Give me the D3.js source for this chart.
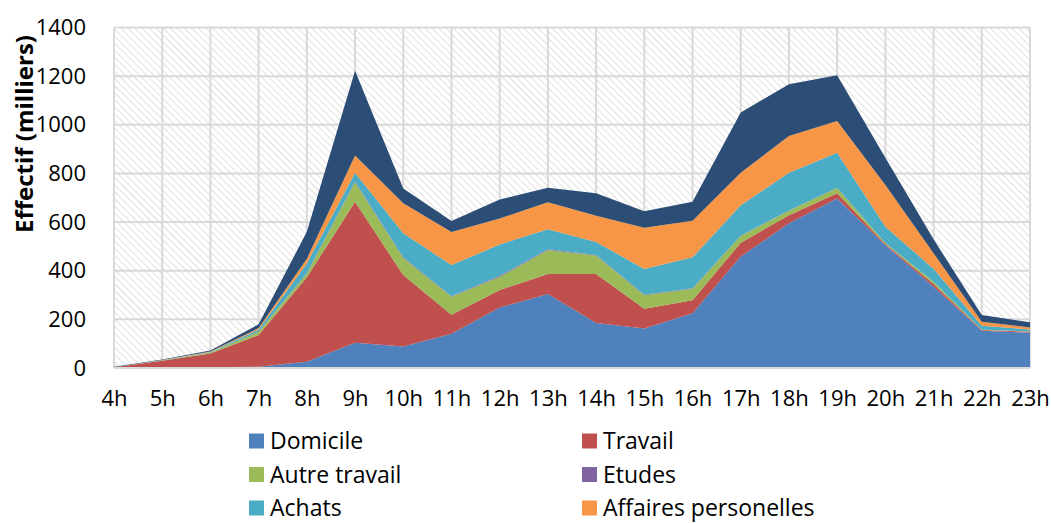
<!DOCTYPE html>
<html>
<head>
<meta charset="utf-8">
<script src="https://cdn.jsdelivr.net/npm/d3@7"></script>
<style>
  body { margin: 0; background: #fff; }
  svg { display: block; font-family: "Open Sans", sans-serif; }
</style>
</head>
<body>
<div id="chart"></div>
<script>
// hours of the day
var hours = ["4h","5h","6h","7h","8h","9h","10h","11h","12h","13h","14h","15h","16h","17h","18h","19h","20h","21h","22h","23h"];

// effectif (milliers) per motif
var domicile      = [1, 2, 3, 5, 26, 104, 88, 141, 249, 304, 185, 162, 225, 458, 595, 697, 505, 334, 153, 145];
var travail       = [2, 28, 57, 131, 347, 580, 294, 78, 72, 82, 201, 82, 54, 57, 33, 21, 5, 11, 3, 4];
var autreTravail  = [0, 1, 4, 13, 16, 80, 70, 74, 54, 99, 77, 55, 47, 28, 19, 22, 4, 10, 2, 1];
var etudes        = [0, 0, 0, 1, 2, 3, 3, 2, 4, 3, 2, 2, 2, 1, 1, 1, 0, 0, 0, 0];
var achats        = [0, 1, 2, 8, 39, 36, 99, 128, 129, 82, 53, 106, 127, 125, 155, 144, 67, 53, 16, 8];
var affairesPerso = [0, 1, 2, 6, 19, 71, 123, 136, 107, 111, 108, 170, 150, 134, 151, 131, 171, 64, 16, 9];
var loisirs       = [2, 2, 4, 16, 111, 348, 61, 45, 78, 60, 92, 67, 79, 248, 213, 188, 112, 57, 28, 21];

var seriesNames = ["Domicile", "Travail", "Autre travail", "Etudes", "Achats", "Affaires personelles", "Loisirs"];
var seriesValues = [domicile, travail, autreTravail, etudes, achats, affairesPerso, loisirs];
var colors = ["#4F81BD", "#C0504D", "#9BBB59", "#8064A2", "#4BACC6", "#F79646", "#2C4D75"];
var yTicks = [0, 200, 400, 600, 800, 1000, 1200, 1400];

var width = 1051, height = 523;
var plotLeft = 114, plotRight = 1030, plotTop = 27.5, plotBottom = 368;

var svg = d3.select("#chart")
  .append("svg")
  .attr("width", width)
  .attr("height", height);

// hatched background
var defs = svg.append("defs");
var pat = defs.append("pattern")
  .attr("id", "hatch")
  .attr("patternUnits", "userSpaceOnUse")
  .attr("width", 5).attr("height", 5)
  .attr("patternTransform", "rotate(-45)");
pat.append("rect").attr("width", 5).attr("height", 5).attr("fill", "#fff");
pat.append("line")
  .attr("x1", 0).attr("y1", 0).attr("x2", 0).attr("y2", 5)
  .attr("stroke", "#d8d8d8").attr("stroke-width", 1.6);

var table = hours.map(function(h, i) {
  var row = {hour: h};
  seriesNames.forEach(function(n, j) { row[n] = seriesValues[j][i]; });
  return row;
});

var x = d3.scalePoint().domain(hours).range([plotLeft, plotRight]);
var y = d3.scaleLinear().domain([0, 1400]).range([plotBottom, plotTop]);

svg.append("rect")
  .attr("x", plotLeft).attr("y", plotTop)
  .attr("width", plotRight - plotLeft).attr("height", plotBottom - plotTop)
  .attr("fill", "url(#hatch)");

// gridlines
svg.append("g")
  .selectAll("line")
  .data(yTicks)
  .enter().append("line")
  .attr("x1", plotLeft).attr("x2", plotRight)
  .attr("y1", function(d) { return y(d); })
  .attr("y2", function(d) { return y(d); })
  .attr("stroke", "#d9d9d9").attr("stroke-width", 2);

svg.append("g")
  .selectAll("line")
  .data(hours)
  .enter().append("line")
  .attr("x1", function(d) { return x(d); })
  .attr("x2", function(d) { return x(d); })
  .attr("y1", plotTop).attr("y2", plotBottom)
  .attr("stroke", "#d9d9d9").attr("stroke-width", 2);

var stack = d3.stack().keys(seriesNames);
var layers = stack(table);

var area = d3.area()
  .x(function(d) { return x(d.data.hour); })
  .y0(function(d) { return y(d[0]); })
  .y1(function(d) { return y(d[1]); });

svg.append("g")
  .selectAll("path")
  .data(layers)
  .enter().append("path")
  .attr("d", area)
  .attr("fill", function(d, i) { return colors[i]; });

// axis line at bottom
svg.append("line")
  .attr("x1", plotLeft).attr("x2", plotRight)
  .attr("y1", plotBottom).attr("y2", plotBottom)
  .attr("stroke", "#d9d9d9").attr("stroke-width", 2);

// y axis labels
var yAxis = d3.axisLeft(y).tickValues(yTicks).tickFormat(d3.format("d")).tickSize(0).tickPadding(28);
svg.append("g")
  .attr("transform", "translate(" + plotLeft + ",0)")
  .call(yAxis)
  .call(function(g) { g.select(".domain").remove(); })
  .selectAll("text")
  .attr("font-family", "Open Sans, sans-serif")
  .attr("font-size", "22px")
  .attr("fill", "#000");

// x axis labels
var xAxis = d3.axisBottom(x).tickSize(0).tickPadding(22);
svg.append("g")
  .attr("transform", "translate(0," + plotBottom + ")")
  .call(xAxis)
  .call(function(g) { g.select(".domain").remove(); })
  .selectAll("text")
  .attr("font-family", "Open Sans, sans-serif")
  .attr("font-size", "22px")
  .attr("fill", "#000");

// y title
svg.append("text")
  .attr("transform", "translate(33,134) rotate(-90)")
  .attr("text-anchor", "middle")
  .attr("font-size", "24px")
  .attr("font-weight", "bold")
  .text("Effectif (milliers)");

// legend, two columns; only the first three rows fit in the picture
var legend = svg.append("g")
  .selectAll("g")
  .data(seriesNames.slice(0, 6))
  .enter().append("g")
  .attr("transform", function(d, i) {
    var col = i % 2, row = Math.floor(i / 2);
    return "translate(" + (249 + col * 333) + "," + (441 + row * 33.5) + ")";
  });

legend.append("rect")
  .attr("x", 0).attr("y", -7.5)
  .attr("width", 15).attr("height", 15)
  .attr("fill", function(d, i) { return colors[i]; });

legend.append("text")
  .attr("x", 21).attr("y", 8)
  .attr("font-size", "23px")
  .text(function(d) { return d; });
</script>
</body>
</html>
